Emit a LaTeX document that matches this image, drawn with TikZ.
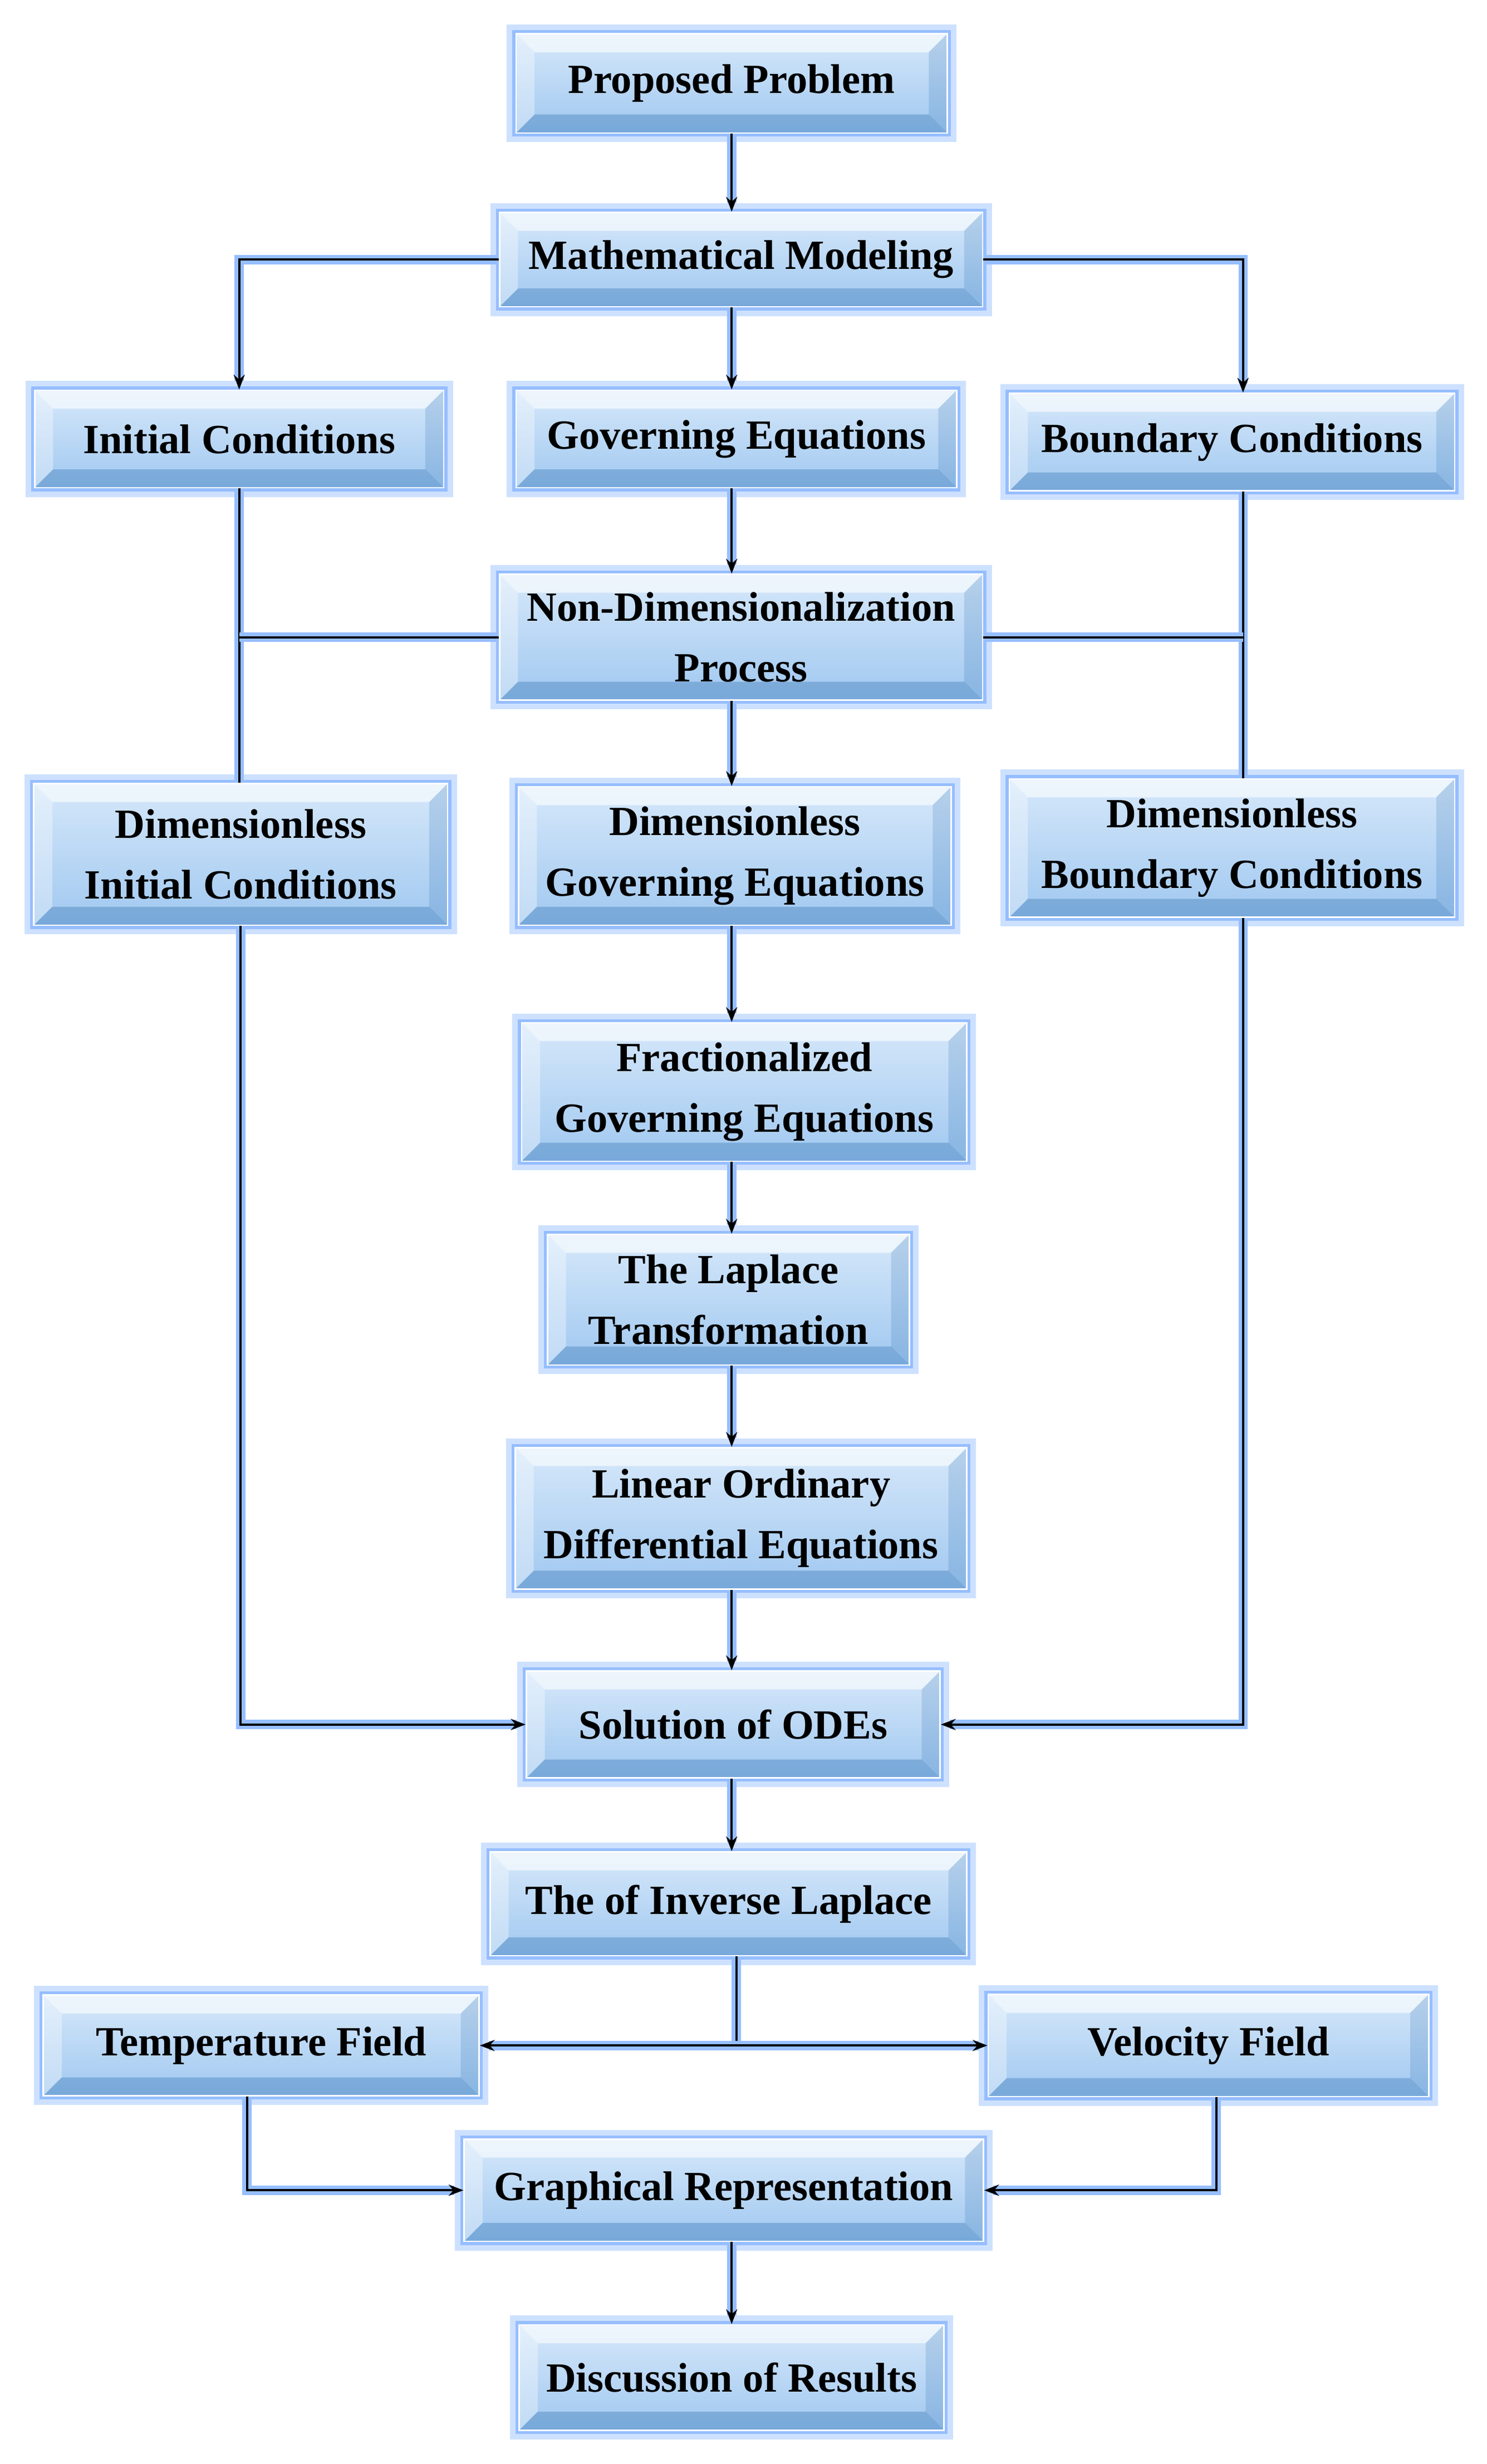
\documentclass[tikz,border=0pt]{standalone}
\usepackage{fontspec}
\setmainfont{Liberation Serif}
\usetikzlibrary{arrows.meta,calc}
\definecolor{bt}{RGB}{214,232,250}
\definecolor{bb}{RGB}{160,200,240}
\definecolor{gl}{RGB}{150,190,255}
\definecolor{gl2}{RGB}{205,225,255}
\begin{document}
\begin{tikzpicture}[x=0.03cm,y=-0.03cm,
  box/.style={draw=white,line width=0.8pt,top color=bt,bottom color=bb,
    align=center,font=\fontsize{22.5}{33}\selectfont\bfseries,inner sep=0pt,
    preaction={draw=gl2,line width=10pt},
    preaction={draw=gl,line width=4pt},
    path picture={
      \fill[white,opacity=.6] (path picture bounding box.north west)--(path picture bounding box.north east)--([shift={(-10pt,-10pt)}]path picture bounding box.north east)--([shift={(10pt,-10pt)}]path picture bounding box.north west)--cycle;
      \fill[white,opacity=.35] (path picture bounding box.north west)--(path picture bounding box.south west)--([shift={(10pt,10pt)}]path picture bounding box.south west)--([shift={(10pt,-10pt)}]path picture bounding box.north west)--cycle;
      \fill[blue!50!cyan!60!black,opacity=.25] (path picture bounding box.south west)--(path picture bounding box.south east)--([shift={(-10pt,10pt)}]path picture bounding box.south east)--([shift={(10pt,10pt)}]path picture bounding box.south west)--cycle;
      \fill[blue!50!cyan!60!black,opacity=.15] (path picture bounding box.north east)--(path picture bounding box.south east)--([shift={(-10pt,10pt)}]path picture bounding box.south east)--([shift={(-10pt,-10pt)}]path picture bounding box.north east)--cycle;
    }},
  ln/.style={draw=black,line width=1.2pt,preaction={draw=gl,line width=5pt}},
  ar/.style={ln,-{Stealth[length=8pt,width=6pt]}}]
\useasboundingbox[fill=white] (0,0) rectangle (945,1566);
\newcommand\bx[6]{\node[box,minimum width=#4*0.03cm,minimum height=#5*0.03cm] (#1) at (#2,#3) {#6};}
\bx{pp}{465}{53}{274}{63}{Proposed Problem}
\bx{mm}{471}{165}{307}{60}{Mathematical Modeling}
\bx{ic}{152}{279}{260}{62}{Initial Conditions}
\bx{ge}{468}{279}{280}{62}{Governing Equations}
\bx{bc}{783}{281}{283}{62}{Boundary Conditions}
\bx{nd}{471}{405}{307}{80}{Non-Dimensionalization\\Process}
\bx{dic}{153}{543}{263}{90}{Dimensionless\\Initial Conditions}
\bx{dge}{467}{544}{275}{88}{Dimensionless\\Governing Equations}
\bx{dbc}{783}{539}{283}{88}{Dimensionless\\Boundary Conditions}
\bx{fge}{473}{694}{283}{88}{Fractionalized\\Governing Equations}
\bx{lt}{463}{826}{230}{83}{The Laplace\\Transformation}
\bx{lode}{471}{965}{287}{90}{Linear Ordinary\\Differential Equations}
\bx{sol}{466}{1096}{263}{68}{Solution of ODEs}
\bx{il}{463}{1210}{303}{66}{The of Inverse Laplace}
\bx{tf}{166}{1300}{277}{64}{Temperature Field}
\bx{vf}{768}{1300}{280}{65}{Velocity Field}
\bx{gr}{460}{1392}{330}{65}{Graphical Representation}
\bx{dr}{465}{1511}{270}{67}{Discussion of Results}
% connectors
\draw[ar] (pp.south -| 465,0) -- (mm.north -| 465,0);
\draw[ar] (mm.south -| 465,0) -- (ge.north -| 465,0);
\draw[ar] (mm.west) -| (ic.north);
\draw[ar] (mm.east) -| (bc.north -| 790,0);
\draw[ar] (ge.south -| 465,0) -- (nd.north -| 465,0);
\draw[ln] (ic.south) -- (dic.north -| ic.south);
\draw[ln] (bc.south -| 790,0) -- (dbc.north -| 790,0);
\coordinate (ndl) at (152,405);
\coordinate (ndr) at (790,405);
\draw[ln] (nd.west) -- (ndl);
\draw[ln] (nd.east) -- (ndr);
\draw[ar] (nd.south -| 465,0) -- (dge.north -| 465,0);
\draw[ar] (dge.south -| 465,0) -- (fge.north -| 465,0);
\draw[ar] (fge.south -| 465,0) -- (lt.north -| 465,0);
\draw[ar] (lt.south -| 465,0) -- (lode.north -| 465,0);
\draw[ar] (lode.south -| 465,0) -- (sol.north -| 465,0);
\draw[ar] (dic.south) |- (sol.west);
\draw[ar] (dbc.south -| 790,0) |- (sol.east);
\draw[ar] (sol.south -| 465,0) -- (il.north -| 465,0);
\coordinate (j) at (468,1300);
\draw[ln] (il.south -| 468,0) -- (j);
\draw[ar] (j) -- (tf.east);
\draw[ar] (j) -- (vf.west);
\draw[ar] (tf.south -| 157,0) |- (gr.west);
\draw[ar] (vf.south -| 773,0) |- (gr.east);
\draw[ar] (gr.south -| 465,0) -- (dr.north -| 465,0);
\end{tikzpicture}
\end{document}
